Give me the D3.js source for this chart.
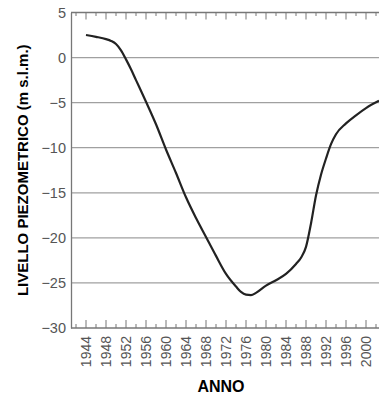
<!DOCTYPE html>
<meta charset="utf-8">
<script src="https://d3js.org/d3.v7.min.js"></script>
<body style="margin:0;background:#fff">
    <div id="viz"></div>
</body>
<script>
    // data
    let years  = [1944, 1946, 1948, 1949, 1950, 1951, 1952, 1953, 1954, 1956, 1958, 1960, 1962, 1964, 1966, 1968, 1970, 1972, 1974, 1975, 1976, 1977, 1978, 1980, 1982, 1984, 1986, 1987, 1988, 1989, 1990, 1991, 1992, 1993, 1994, 1996, 1998, 2000, 2002.6];
    let levels = [2.5, 2.3, 2.05, 1.85, 1.5, 0.8, -0.2, -1.3, -2.5, -4.9, -7.4, -10.2, -12.8, -15.5, -17.8, -19.9, -22.0, -24.0, -25.4, -26.0, -26.3, -26.35, -26.1, -25.3, -24.7, -24.0, -22.9, -22.2, -21.0, -18.4, -15.3, -13.0, -11.2, -9.6, -8.5, -7.3, -6.4, -5.6, -4.8];
    let yTicks = [5, 0, -5, -10, -15, -20, -25, -30];
    let xLabels = d3.range(1944, 2001, 4);

    let width = 379, height = 399;
    let margin = {top : 12.5, right : 0, bottom : 71, left : 71};

    let svg = d3.select("#viz")
    .append("svg")
        .attr("width", width)
        .attr("height", height)
        .style("font-family", "'Liberation Sans', Arial, sans-serif");

    let x = d3.scaleLinear()
        .domain([1941, 2002.6])
        .range([margin.left, width - margin.right]);
    let y = d3.scaleLinear()
        .domain([-30, 5])
        .range([height - margin.bottom, margin.top]);

    //gridlines
    svg.append("g")
        .selectAll("line")
        .data(yTicks.filter(d => d > -30 && d < 5))
        .enter()
        .append("line")
            .attr("x1", margin.left)
            .attr("x2", width)
            .attr("y1", d => y(d))
            .attr("y2", d => y(d))
            .style("stroke", "#a0a0a0")
            .style("stroke-width", 1.2);

    //left axis, labels only
    let yAxis = svg.append("g")
        .attr("transform", `translate(${margin.left},0)`)
        .call(d3.axisLeft(y).tickValues(yTicks).tickSize(0).tickPadding(5).tickFormat(d3.format("d")));
    yAxis.select(".domain")
        .attr("stroke", "#777")
        .attr("stroke-width", 1.3);
    yAxis.selectAll(".tick text")
        .attr("font-size", 14.5)
        .attr("font-family", null)
        .attr("fill", "#555");

    //bottom and top axes with inner ticks
    let minorYears = d3.range(1942, 2003, 2);
    let bottomAxis = svg.append("g")
        .attr("transform", `translate(0,${y(-30)})`);
    bottomAxis.append("line")
        .attr("x1", margin.left).attr("x2", width)
        .style("stroke", "#777").style("stroke-width", 1.3);
    bottomAxis.selectAll(".tk")
        .data(minorYears)
        .enter()
        .append("line")
            .attr("x1", d => x(d)).attr("x2", d => x(d))
            .attr("y1", 0)
            .attr("y2", d => (d % 4 == 0) ? -8 : -4)
            .style("stroke", "#777");
    bottomAxis.selectAll("text")
        .data(xLabels)
        .enter()
        .append("text")
            .attr("transform", d => `translate(${x(d) + 5},8) rotate(-90)`)
            .attr("text-anchor", "end")
            .attr("font-size", 14)
            .attr("fill", "#555")
            .text(d => d);

    let topAxis = svg.append("g")
        .attr("transform", `translate(0,${y(5)})`);
    topAxis.append("line")
        .attr("x1", margin.left).attr("x2", width)
        .style("stroke", "#777").style("stroke-width", 1.3);
    topAxis.selectAll(".tk")
        .data(minorYears)
        .enter()
        .append("line")
            .attr("x1", d => x(d)).attr("x2", d => x(d))
            .attr("y1", 0)
            .attr("y2", d => (d % 4 == 0) ? 7 : 3.5)
            .style("stroke", "#777");

    //curve
    let line = d3.line()
        .x((d, i) => x(years[i]))
        .y(d => y(d))
        .curve(d3.curveMonotoneX);
    svg.append("path")
        .datum(levels)
        .attr("d", line)
        .style("fill", "none")
        .style("stroke", "#222")
        .style("stroke-width", 2.2);

    //titles
    svg.append("text")
        .attr("transform", `translate(28,${(y(5) + y(-30)) / 2}) rotate(-90)`)
        .attr("text-anchor", "middle")
        .attr("font-size", 15)
        .attr("font-weight", "bold")
        .text("LIVELLO PIEZOMETRICO (m s.l.m.)");

    svg.append("text")
        .attr("x", 221)
        .attr("y", 392)
        .attr("text-anchor", "middle")
        .attr("font-size", 16)
        .attr("font-weight", "bold")
        .text("ANNO");
</script>
